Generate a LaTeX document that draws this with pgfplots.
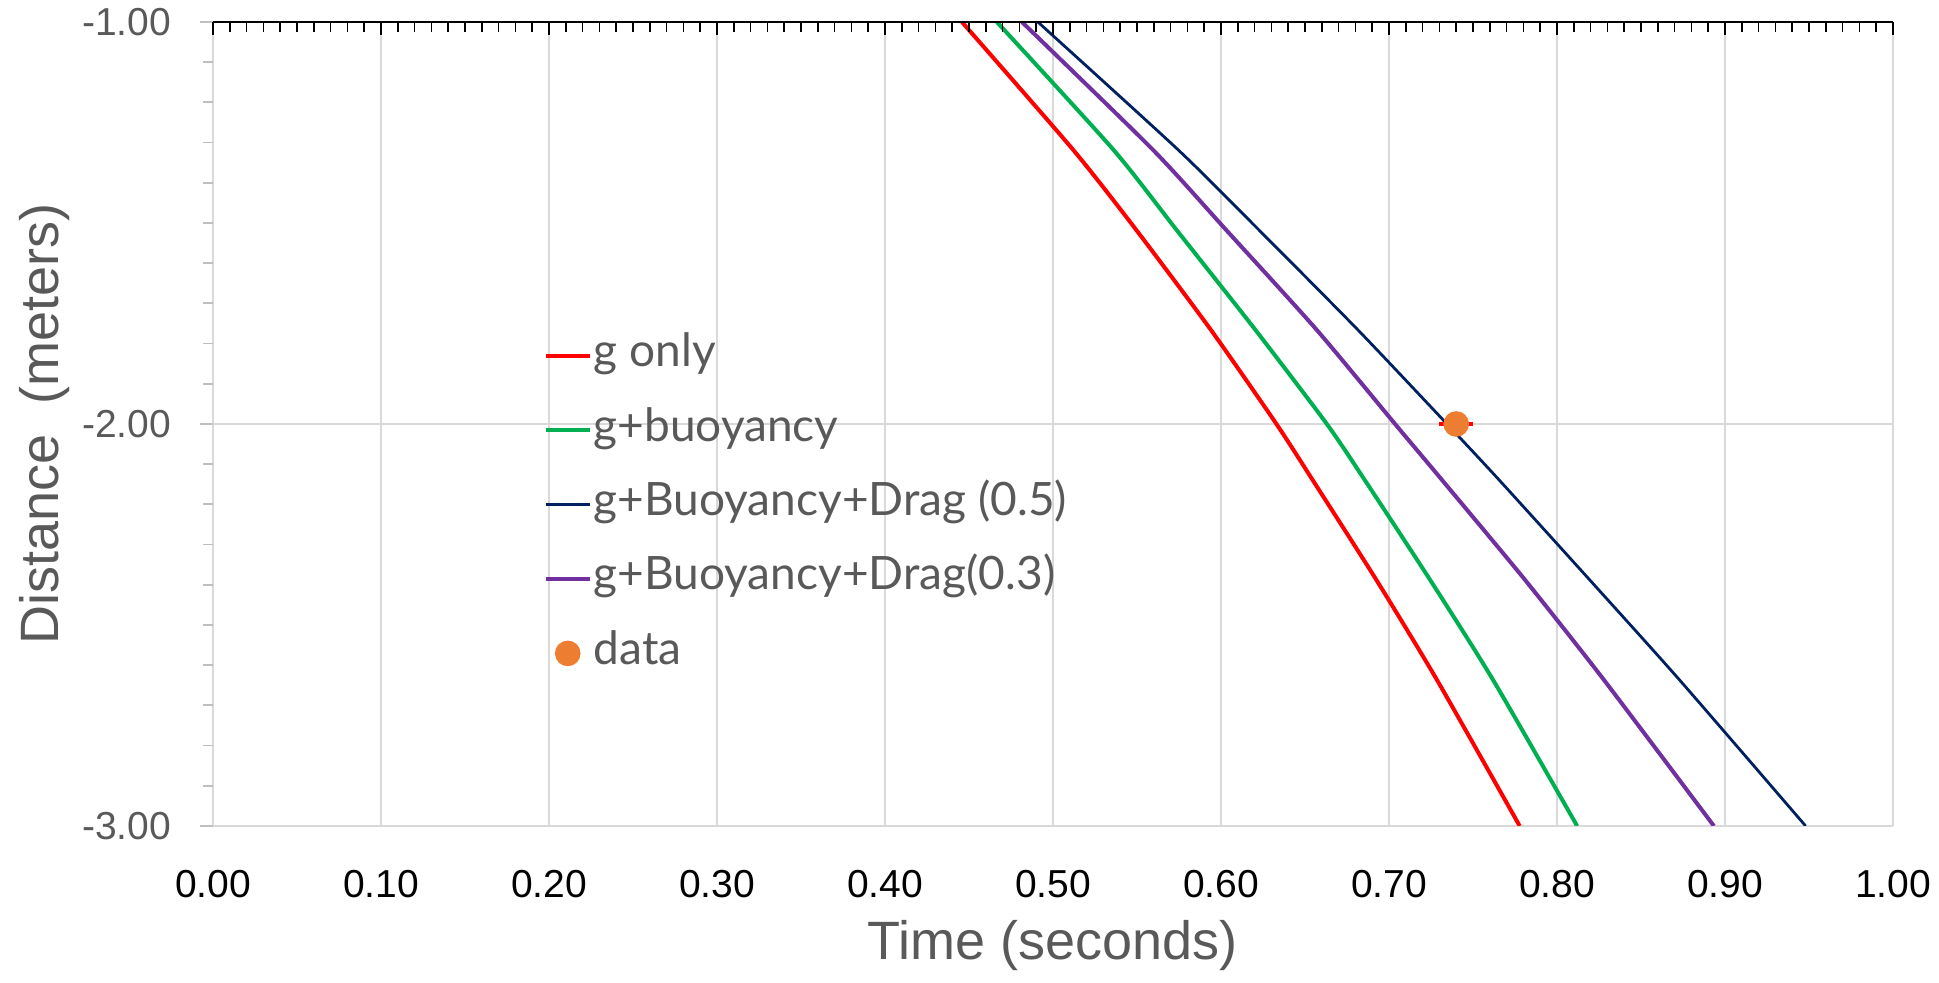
\documentclass[border=0pt]{standalone}
\usepackage{fontspec}
\setmainfont{Liberation Sans}
\newfontfamily\legfont{Lato}
\usepackage{pgfplots}
\usepackage{pgfplotstable}
\pgfplotsset{compat=1.18}

\definecolor{gridgray}{HTML}{D9D9D9}
\definecolor{labgray}{HTML}{595959}
\definecolor{tickgray}{HTML}{BFBFBF}
\definecolor{cred}{HTML}{FF0000}
\definecolor{cgreen}{HTML}{00B050}
\definecolor{cnavy}{HTML}{002060}
\definecolor{cpurple}{HTML}{7030A0}
\definecolor{corange}{HTML}{ED7D31}

% time (s) vs distance (m)
\pgfplotstableread{
t d
0.4458 -1.000
0.5120 -1.318
0.5495 -1.517
0.5940 -1.766
0.6330 -2.000
0.6545 -2.139
0.6925 -2.388
0.7286 -2.637
0.7778 -3.000
}\gonly
\pgfplotstableread{
t d
0.4666 -1.000
0.5360 -1.318
0.5735 -1.517
0.6205 -1.766
0.6630 -2.000
0.6855 -2.139
0.7245 -2.388
0.7620 -2.637
0.8120 -3.000
}\gbuoy
\pgfplotstableread{
t d
0.4910 -1.000
0.5745 -1.318
0.6225 -1.517
0.6815 -1.766
0.7345 -2.000
0.7655 -2.139
0.8195 -2.388
0.8730 -2.637
0.9480 -3.000
}\dragfive
\pgfplotstableread{
t d
0.4815 -1.000
0.5595 -1.318
0.6030 -1.517
0.6570 -1.766
0.7036 -2.000
0.7315 -2.139
0.7810 -2.388
0.8280 -2.637
0.8934 -3.000
}\dragthree

\begin{document}
\begin{tikzpicture}
\begin{axis}[
  scale only axis, width=420pt, height=201pt,
  xmin=0, xmax=1, ymin=-3, ymax=-1,
  axis line style={draw=none},
  xtick={0,0.1,0.2,0.3,0.4,0.5,0.6,0.7,0.8,0.9,1},
  xticklabels={0.00,0.10,0.20,0.30,0.40,0.50,0.60,0.70,0.80,0.90,1.00},
  ytick={-3,-2,-1}, yticklabels={-3.00,-2.00,-1.00},
  minor y tick num=9,
  grid=major, grid style={gridgray, line width=0.45pt},
  x tick style={draw=none},
  xtick pos=bottom, ytick pos=left,
  tick align=outside,
  y tick style={tickgray, line width=0.45pt},
  major tick length=3.25pt, minor tick length=2.4pt,
  xticklabel style={font=\fontsize{9.75}{11}\selectfont, anchor=center, inner sep=0pt, yshift=-11.25pt},
  yticklabel style={font=\fontsize{9.75}{11}\selectfont, text=labgray, anchor=east, inner sep=0pt, xshift=-7pt},
  xlabel={Time (seconds)}, ylabel={Distance\ \ (meters)},
  xlabel style={font=\fontsize{13.5}{15}\selectfont, text=labgray, at={(axis description cs:0.5,-0.149)}, anchor=center},
  ylabel style={font=\fontsize{13.5}{15}\selectfont, text=labgray, at={(axis description cs:-0.1,0.5)}, anchor=center},
  legend cell align=left,
  legend image code/.code={\draw[mark repeat=2,mark phase=2,#1] plot coordinates {(0pt,0pt) (5.5pt,0pt) (11pt,0pt)};},
  legend style={at={(axis cs:0.1964,-1.8209)}, anchor=north west, yshift=4.5pt,
    draw=none, fill=none, inner sep=0pt, row sep=8.1pt,
    font=\legfont\fontsize{11.5}{13}\selectfont, text=labgray,
    nodes={inner xsep=0.5pt, inner ysep=0pt, text height=8pt, text depth=2.5pt}},
]
\addplot[cred, line width=1pt, smooth, tension=0.4] table[x=t, y=d] {\gonly};
\addlegendentry{g only}
\addplot[cgreen, line width=1pt, smooth, tension=0.4] table[x=t, y=d] {\gbuoy};
\addlegendentry{g+buoyancy}
\addplot[cnavy, line width=0.7pt, smooth, tension=0.4] table[x=t, y=d] {\dragfive};
\addlegendentry{g+Buoyancy+Drag (0.5)}
\addplot[cpurple, line width=1pt, smooth, tension=0.4] table[x=t, y=d] {\dragthree};
\addlegendentry{g+Buoyancy+Drag(0.3)}
\addplot[only marks, mark=*, mark size=3pt, color=corange,
  error bars/.cd, x dir=both, x explicit,
  error bar style={cred, line width=1pt}, error mark=none]
  coordinates {(0.74,-2) +- (0.01,0)};
\addlegendentry{data}
\coordinate (bl) at (rel axis cs:0,0);
\coordinate (tr) at (rel axis cs:1,1);
\end{axis}
% top axis line with its ticks
\begin{axis}[
  scale only axis, width=420pt, height=201pt,
  xmin=0, xmax=1, ymin=-3, ymax=-1,
  axis y line=none, axis x line*=top,
  x axis line style={-, black, line width=0.6pt},
  xtick={0,0.1,0.2,0.3,0.4,0.5,0.6,0.7,0.8,0.9,1},
  xticklabels={}, minor x tick num=9,
  tick align=inside,
  x tick style={black, line width=0.4pt},
  major tick length=3.25pt, minor tick length=2.5pt,
]
\addplot[draw=none] coordinates {(0,-1)};
\end{axis}
\pgfresetboundingbox
\path ([xshift=-53.25pt,yshift=-39.25pt]bl) rectangle ([xshift=11.5pt,yshift=5.5pt]tr);
\end{tikzpicture}
\end{document}
